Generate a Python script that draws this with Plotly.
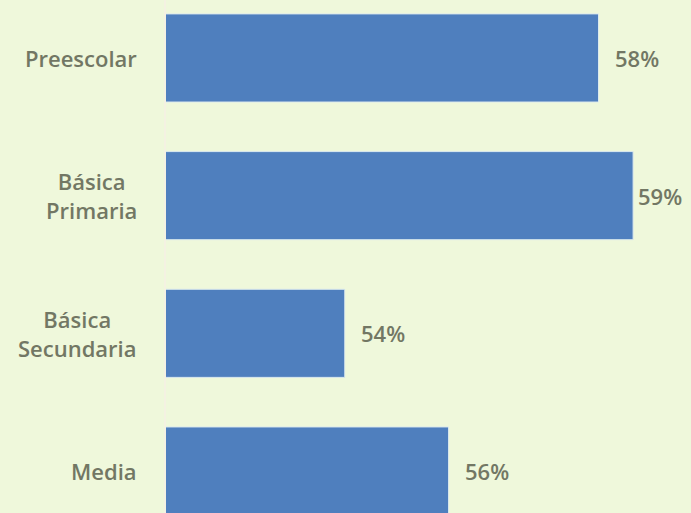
import plotly.graph_objects as go

niveles = ["Preescolar", "Básica<br>Primaria", "Básica<br>Secundaria", "Media"]
valores = [58.4, 59.0, 54.0, 55.8]
etiquetas = ["58%", "59%", "54%", "56%"]

FONDO = "#EFF8DB"
AZUL = "#4F7FBE"
TEXTO = "#727764"
FUENTE = dict(family="Open Sans", size=22, color=TEXTO, weight=600)

fig = go.Figure()
fig.add_trace(go.Bar(
    y=niveles, x=valores, orientation="h",
    marker=dict(color=AZUL, line=dict(color="#DCEAEE", width=1)),
    hoverinfo="none",
))

# etiquetas de valor
desplaz = [14, 3, 14, 14]
for n, v, t, d in zip(niveles, valores, etiquetas, desplaz):
    fig.add_annotation(x=v, y=n, text=t, showarrow=False, xanchor="left",
                       xshift=d, font=FUENTE)

# nombres de categoría centrados (como Excel)
for n in niveles:
    fig.add_annotation(xref="paper", x=0, y=n, text=n, showarrow=False,
                       xanchor="right", align="center", xshift=-27,
                       font=FUENTE)

fig.update_layout(
    width=691, height=513,
    margin=dict(l=166, r=6, t=0, b=0),
    paper_bgcolor=FONDO, plot_bgcolor=FONDO,
    bargap=0.36, showlegend=False,
    font=FUENTE,
)
fig.update_xaxes(range=[50.9, 59.9], visible=False, showgrid=False, zeroline=False)
fig.update_yaxes(categoryorder="array", categoryarray=niveles,
                 range=[3.305, -0.421], showgrid=False, zeroline=False,
                 showline=True, linecolor="#F4F2E2", linewidth=2,
                 ticks="", showticklabels=False)

fig.write_html("out.html", config={"displayModeBar": False},
               post_script="document.body.style.margin='0';document.body.style.overflow='hidden';")
